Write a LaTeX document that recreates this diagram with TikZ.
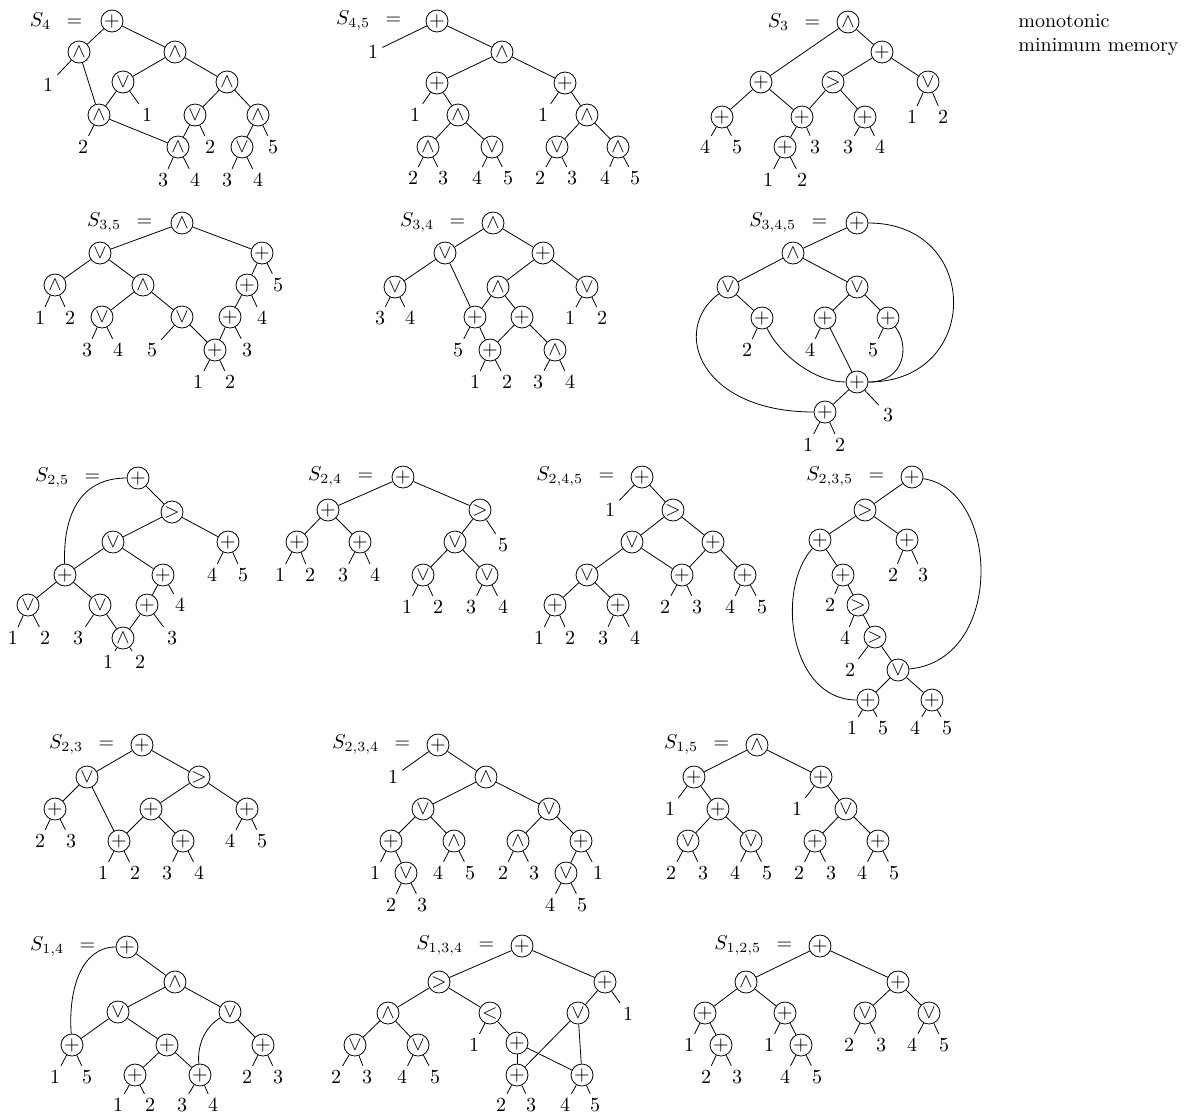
\documentclass[tikz,border=0pt]{standalone}
\usepackage{amsmath, amssymb}
\usepackage{tikz}
\usetikzlibrary{positioning}

\begin{document}
\begin{tikzpicture}[x=0.5pt, y=-0.5pt,
  op/.style={draw, circle, inner sep=0pt, minimum size=11pt},
  lf/.style={inner sep=2pt},
  lbl/.style={inner sep=0pt},
  note/.style={align=left, inner sep=0pt}]
\path[use as bounding box, fill=white] (0,0) rectangle (1189,1115);
% S_4
\node[op] (a0) at (112,21) {$+$};
\node[op] (a1) at (79,52) {$\wedge$};
\node[op] (a2) at (175,52) {$\wedge$};
\node[op] (a3) at (123,82) {$\vee$};
\node[op] (a4) at (227,82) {$\wedge$};
\node[op] (a5) at (99,115) {$\wedge$};
\node[op] (a6) at (195,115) {$\vee$};
\node[op] (a7) at (258,115) {$\wedge$};
\node[op] (a8) at (178,147) {$\wedge$};
\node[op] (a9) at (242,147) {$\vee$};
\node[lf] (a10) at (48,85) {1};
\node[lf] (a11) at (147,115) {1};
\node[lf] (a12) at (83,147) {2};
\node[lf] (a13) at (210,147) {2};
\node[lf] (a14) at (273,147) {5};
\node[lf] (a15) at (163,180) {3};
\node[lf] (a16) at (195,180) {4};
\node[lf] (a17) at (227,180) {3};
\node[lf] (a18) at (258,180) {4};
\node[lbl, left=9pt of a0] (a) {$S_{4}\enskip=$};
\draw (a0) -- (a1); \draw (a0) -- (a2); \draw (a1) -- (a10); \draw (a1) -- (a5); \draw (a2) -- (a3); \draw (a2) -- (a4);
\draw (a3) -- (a5); \draw (a3) -- (a11); \draw (a5) -- (a12); \draw (a5) -- (a8); \draw (a4) -- (a6); \draw (a4) -- (a7);
\draw (a6) -- (a8); \draw (a6) -- (a13); \draw (a7) -- (a9); \draw (a7) -- (a14);
\draw (a8) -- (a15); \draw (a8) -- (a16); \draw (a9) -- (a17); \draw (a9) -- (a18);
% S_{4,5}
\node[op] (b0) at (437,21) {$+$};
\node[op] (b1) at (502,52) {$\wedge$};
\node[op] (b2) at (437,83) {$+$};
\node[op] (b3) at (565,83) {$+$};
\node[op] (b4) at (458,115) {$\wedge$};
\node[op] (b5) at (587,115) {$\wedge$};
\node[op] (b6) at (428,147) {$\wedge$};
\node[op] (b7) at (492,147) {$\vee$};
\node[op] (b8) at (557,147) {$\vee$};
\node[op] (b9) at (618,147) {$\wedge$};
\node[lf] (b10) at (373,52) {1};
\node[lf] (b11) at (415,115) {1};
\node[lf] (b12) at (543,115) {1};
\node[lf] (b13) at (413,178) {2};
\node[lf] (b14) at (443,178) {3};
\node[lf] (b15) at (477,178) {4};
\node[lf] (b16) at (508,178) {5};
\node[lf] (b17) at (540,178) {2};
\node[lf] (b18) at (572,178) {3};
\node[lf] (b19) at (605,178) {4};
\node[lf] (b20) at (635,178) {5};
\node[lbl, left=12pt of b0] (b) {$S_{4,5}\enskip=$};
\draw (b0) -- (b10); \draw (b0) -- (b1); \draw (b1) -- (b2); \draw (b1) -- (b3); \draw (b2) -- (b11); \draw (b2) -- (b4);
\draw (b3) -- (b12); \draw (b3) -- (b5); \draw (b4) -- (b6); \draw (b4) -- (b7); \draw (b5) -- (b8); \draw (b5) -- (b9);
\draw (b6) -- (b13); \draw (b6) -- (b14); \draw (b7) -- (b15); \draw (b7) -- (b16);
\draw (b8) -- (b17); \draw (b8) -- (b18); \draw (b9) -- (b19); \draw (b9) -- (b20);
% S_3
\node[op] (c0) at (848,22) {$\wedge$};
\node[op] (c1) at (882,52) {$+$};
\node[op] (c2) at (761,82) {$+$};
\node[op] (c3) at (833,82) {$>$};
\node[op] (c4) at (928,82) {$\vee$};
\node[op] (c5) at (722,117) {$+$};
\node[op] (c6) at (802,117) {$+$};
\node[op] (c7) at (865,117) {$+$};
\node[op] (c8) at (785,147) {$+$};
\node[lf] (c10) at (912,117) {1};
\node[lf] (c11) at (943,117) {2};
\node[lf] (c12) at (705,147) {4};
\node[lf] (c13) at (737,147) {5};
\node[lf] (c14) at (815,147) {3};
\node[lf] (c15) at (848,147) {3};
\node[lf] (c16) at (880,147) {4};
\node[lf] (c17) at (768,180) {1};
\node[lf] (c18) at (802,180) {2};
\node[lbl, left=8pt of c0] (c) {$S_{3}\enskip=$};
\draw (c0) -- (c2); \draw (c0) -- (c1); \draw (c1) -- (c3); \draw (c1) -- (c4); \draw (c2) -- (c5); \draw (c2) -- (c6);
\draw (c3) -- (c6); \draw (c3) -- (c7); \draw (c4) -- (c10); \draw (c4) -- (c11); \draw (c5) -- (c12); \draw (c5) -- (c13);
\draw (c6) -- (c8); \draw (c6) -- (c14); \draw (c7) -- (c15); \draw (c7) -- (c16); \draw (c8) -- (c17); \draw (c8) -- (c18);
\node[note, anchor=north west] (nt) at (1018,14) {monotonic\\minimum memory};
% S_{3,5}
\node[op] (d0) at (182,223) {$\wedge$};
\node[op] (d1) at (100,253) {$\vee$};
\node[op] (d2) at (262,253) {$+$};
\node[op] (d3) at (55,285) {$\wedge$};
\node[op] (d4) at (143,285) {$\wedge$};
\node[op] (d5) at (247,285) {$+$};
\node[op] (d6) at (102,317) {$\vee$};
\node[op] (d7) at (182,317) {$\vee$};
\node[op] (d8) at (230,317) {$+$};
\node[op] (d9) at (215,350) {$+$};
\node[lf] (d10) at (278,285) {5};
\node[lf] (d11) at (40,318) {1};
\node[lf] (d12) at (70,318) {2};
\node[lf] (d13) at (262,318) {4};
\node[lf] (d14) at (87,350) {3};
\node[lf] (d15) at (118,350) {4};
\node[lf] (d16) at (152,350) {5};
\node[lf] (d17) at (247,350) {3};
\node[lf] (d18) at (198,382) {1};
\node[lf] (d19) at (230,382) {2};
\node[lbl, left=9pt of d0] (d) {$S_{3,5}\enskip=$};
\draw (d0) -- (d1); \draw (d0) -- (d2); \draw (d1) -- (d3); \draw (d1) -- (d4); \draw (d2) -- (d5); \draw (d2) -- (d10);
\draw (d3) -- (d11); \draw (d3) -- (d12); \draw (d4) -- (d6); \draw (d4) -- (d7); \draw (d5) -- (d8); \draw (d5) -- (d13);
\draw (d6) -- (d14); \draw (d6) -- (d15); \draw (d7) -- (d16); \draw (d7) -- (d9); \draw (d8) -- (d9); \draw (d8) -- (d17);
\draw (d9) -- (d18); \draw (d9) -- (d19);
% S_{3,4}
\node[op] (e0) at (493,223) {$\wedge$};
\node[op] (e1) at (445,253) {$\vee$};
\node[op] (e2) at (543,253) {$+$};
\node[op] (e3) at (395,287) {$\vee$};
\node[op] (e4) at (498,287) {$\wedge$};
\node[op] (e5) at (587,287) {$\vee$};
\node[op] (e6) at (475,317) {$+$};
\node[op] (e7) at (522,317) {$+$};
\node[op] (e8) at (490,350) {$+$};
\node[op] (e9) at (555,350) {$\wedge$};
\node[lf] (e10) at (380,318) {3};
\node[lf] (e11) at (410,318) {4};
\node[lf] (e12) at (570,318) {1};
\node[lf] (e13) at (602,318) {2};
\node[lf] (e14) at (458,350) {5};
\node[lf] (e15) at (475,382) {1};
\node[lf] (e16) at (507,382) {2};
\node[lf] (e17) at (538,382) {3};
\node[lf] (e18) at (570,382) {4};
\node[lbl, left=8pt of e0] (e) {$S_{3,4}\enskip=$};
\draw (e0) -- (e1); \draw (e0) -- (e2); \draw (e1) -- (e3); \draw (e1) -- (e6); \draw (e2) -- (e4); \draw (e2) -- (e5);
\draw (e3) -- (e10); \draw (e3) -- (e11); \draw (e4) -- (e6); \draw (e4) -- (e7); \draw (e5) -- (e12); \draw (e5) -- (e13);
\draw (e6) -- (e14); \draw (e6) -- (e8); \draw (e7) -- (e8); \draw (e7) -- (e9);
\draw (e8) -- (e15); \draw (e8) -- (e16); \draw (e9) -- (e17); \draw (e9) -- (e18);
% S_{3,4,5}
\node[op] (f0) at (857,223) {$+$};
\node[op] (f1) at (793,253) {$\wedge$};
\node[op] (f2) at (728,287) {$\vee$};
\node[op] (f3) at (857,287) {$\vee$};
\node[op] (f4) at (762,318) {$+$};
\node[op] (f5) at (825,318) {$+$};
\node[op] (f6) at (888,318) {$+$};
\node[op] (f7) at (857,382) {$+$};
\node[op] (f8) at (825,412) {$+$};
\node[lf] (f10) at (747,350) {2};
\node[lf] (f11) at (810,350) {4};
\node[lf] (f12) at (873,350) {5};
\node[lf] (f13) at (888,415) {3};
\node[lf] (f14) at (808,445) {1};
\node[lf] (f15) at (840,445) {2};
\node[lbl, left=9pt of f0] (f) {$S_{3,4,5}\enskip=$};
\draw (f0) -- (f1); \draw (f0) .. controls +(125,0) and +(125,0) .. (f7);
\draw (f1) -- (f2); \draw (f1) -- (f3); \draw (f2) -- (f4); \draw (f2) .. controls +(-58,43) and +(-125,0) .. (f8);
\draw (f3) -- (f5); \draw (f3) -- (f6); \draw (f4) -- (f10); \draw (f4) .. controls +(18,37) and +(-42,0) .. (f7);
\draw (f5) -- (f11); \draw (f5) -- (f7); \draw (f6) -- (f12); \draw (f6) .. controls +(22,27) and +(48,0) .. (f7);
\draw (f7) -- (f8); \draw (f7) -- (f13); \draw (f8) -- (f14); \draw (f8) -- (f15);
% S_{2,5}
\node[op] (g0) at (138,478) {$+$};
\node[op] (g1) at (172,512) {$>$};
\node[op] (g2) at (113,542) {$\vee$};
\node[op] (g3) at (228,542) {$+$};
\node[op] (g4) at (65,575) {$+$};
\node[op] (g5) at (163,575) {$+$};
\node[op] (g6) at (28,605) {$\vee$};
\node[op] (g7) at (100,605) {$\vee$};
\node[op] (g8) at (147,605) {$+$};
\node[op] (g9) at (123,638) {$\wedge$};
\node[lf] (g10) at (212,575) {4};
\node[lf] (g11) at (243,575) {5};
\node[lf] (g12) at (180,605) {4};
\node[lf] (g13) at (13,638) {1};
\node[lf] (g14) at (45,638) {2};
\node[lf] (g15) at (78,638) {3};
\node[lf] (g16) at (172,638) {3};
\node[lf] (g17) at (108,662) {1};
\node[lf] (g18) at (140,662) {2};
\node[lbl, left=13pt of g0] (g) {$S_{2,5}\enskip=$};
\draw (g0) -- (g1); \draw (g0) .. controls +(-58,0) and +(-2,-60) .. (g4);
\draw (g1) -- (g2); \draw (g1) -- (g3); \draw (g2) -- (g4); \draw (g2) -- (g5); \draw (g3) -- (g10); \draw (g3) -- (g11);
\draw (g4) -- (g6); \draw (g4) -- (g7); \draw (g5) -- (g8); \draw (g5) -- (g12); \draw (g6) -- (g13); \draw (g6) -- (g14);
\draw (g7) -- (g15); \draw (g7) -- (g9); \draw (g8) -- (g9); \draw (g8) -- (g16); \draw (g9) -- (g17); \draw (g9) -- (g18);
% S_{2,4}
\node[op] (h0) at (403,477) {$+$};
\node[op] (h1) at (328,510) {$+$};
\node[op] (h2) at (480,510) {$>$};
\node[op] (h3) at (297,542) {$+$};
\node[op] (h4) at (360,542) {$+$};
\node[op] (h5) at (455,542) {$\vee$};
\node[op] (h6) at (423,575) {$\vee$};
\node[op] (h7) at (487,575) {$\vee$};
\node[lf] (h10) at (503,545) {5};
\node[lf] (h11) at (280,575) {1};
\node[lf] (h12) at (310,575) {2};
\node[lf] (h13) at (343,575) {3};
\node[lf] (h14) at (375,575) {4};
\node[lf] (h15) at (407,607) {1};
\node[lf] (h16) at (438,607) {2};
\node[lf] (h17) at (471,607) {3};
\node[lf] (h18) at (503,607) {4};
\node[lbl, left=9pt of h0] (h) {$S_{2,4}\enskip=$};
\draw (h0) -- (h1); \draw (h0) -- (h2); \draw (h1) -- (h3); \draw (h1) -- (h4); \draw (h2) -- (h5); \draw (h2) -- (h10);
\draw (h3) -- (h11); \draw (h3) -- (h12); \draw (h4) -- (h13); \draw (h4) -- (h14); \draw (h5) -- (h6); \draw (h5) -- (h7);
\draw (h6) -- (h15); \draw (h6) -- (h16); \draw (h7) -- (h17); \draw (h7) -- (h18);
% S_{2,4,5}
\node[op] (i0) at (642,477) {$+$};
\node[op] (i1) at (673,510) {$>$};
\node[op] (i2) at (632,542) {$\vee$};
\node[op] (i3) at (713,542) {$+$};
\node[op] (i4) at (587,575) {$\vee$};
\node[op] (i5) at (682,575) {$+$};
\node[op] (i6) at (745,575) {$+$};
\node[op] (i7) at (555,605) {$+$};
\node[op] (i8) at (618,605) {$+$};
\node[lf] (i10) at (610,510) {1};
\node[lf] (i11) at (665,607) {2};
\node[lf] (i12) at (697,607) {3};
\node[lf] (i13) at (730,607) {4};
\node[lf] (i14) at (762,607) {5};
\node[lf] (i15) at (539,638) {1};
\node[lf] (i16) at (570,638) {2};
\node[lf] (i17) at (603,638) {3};
\node[lf] (i18) at (635,638) {4};
\node[lbl, left=8pt of i0] (i) {$S_{2,4,5}\enskip=$};
\draw (i0) -- (i10); \draw (i0) -- (i1); \draw (i1) -- (i2); \draw (i1) -- (i3); \draw (i2) -- (i4); \draw (i2) -- (i5);
\draw (i3) -- (i5); \draw (i3) -- (i6); \draw (i4) -- (i7); \draw (i4) -- (i8); \draw (i5) -- (i11); \draw (i5) -- (i12);
\draw (i6) -- (i13); \draw (i6) -- (i14); \draw (i7) -- (i15); \draw (i7) -- (i16); \draw (i8) -- (i17); \draw (i8) -- (i18);
% S_{2,3,5}
\node[op] (j0) at (912,477) {$+$};
\node[op] (j1) at (865,510) {$>$};
\node[op] (j2) at (820,540) {$+$};
\node[op] (j3) at (907,540) {$+$};
\node[op] (j4) at (843,575) {$+$};
\node[op] (j5) at (858,605) {$>$};
\node[op] (j6) at (875,637) {$>$};
\node[op] (j7) at (898,670) {$\vee$};
\node[op] (j8) at (868,700) {$+$};
\node[op] (j9) at (932,700) {$+$};
\node[lf] (j10) at (893,575) {2};
\node[lf] (j11) at (923,575) {3};
\node[lf] (j12) at (830,605) {2};
\node[lf] (j13) at (845,638) {4};
\node[lf] (j14) at (850,670) {2};
\node[lf] (j15) at (852,728) {1};
\node[lf] (j16) at (883,728) {5};
\node[lf] (j17) at (915,728) {4};
\node[lf] (j18) at (947,728) {5};
\node[lbl, left=8pt of j0] (j) {$S_{2,3,5}\enskip=$};
\draw (j0) -- (j1); \draw (j0) .. controls +(88,13) and +(107,-10) .. (j7);
\draw (j1) -- (j2); \draw (j1) -- (j3); \draw (j2) -- (j4); \draw (j2) .. controls +(-45,50) and +(-78,0) .. (j8);
\draw (j3) -- (j10); \draw (j3) -- (j11); \draw (j4) -- (j12); \draw (j4) -- (j5); \draw (j5) -- (j13); \draw (j5) -- (j6);
\draw (j6) -- (j14); \draw (j6) -- (j7); \draw (j7) -- (j8); \draw (j7) -- (j9);
\draw (j8) -- (j15); \draw (j8) -- (j16); \draw (j9) -- (j17); \draw (j9) -- (j18);
% S_{2,3}
\node[op] (k0) at (142,745) {$+$};
\node[op] (k1) at (87,777) {$\vee$};
\node[op] (k2) at (199,777) {$>$};
\node[op] (k3) at (55,809) {$+$};
\node[op] (k4) at (151,809) {$+$};
\node[op] (k5) at (247,809) {$+$};
\node[op] (k6) at (119,841) {$+$};
\node[op] (k7) at (183,841) {$+$};
\node[lf] (k10) at (40,841) {2};
\node[lf] (k11) at (71,841) {3};
\node[lf] (k12) at (230,841) {4};
\node[lf] (k13) at (262,841) {5};
\node[lf] (k14) at (103,873) {1};
\node[lf] (k15) at (135,873) {2};
\node[lf] (k16) at (167,873) {3};
\node[lf] (k17) at (199,873) {4};
\node[lbl, left=8pt of k0] (k) {$S_{2,3}\enskip=$};
\draw (k0) -- (k1); \draw (k0) -- (k2); \draw (k1) -- (k3); \draw (k1) -- (k6); \draw (k2) -- (k4); \draw (k2) -- (k5);
\draw (k3) -- (k10); \draw (k3) -- (k11); \draw (k4) -- (k6); \draw (k4) -- (k7); \draw (k5) -- (k12); \draw (k5) -- (k13);
\draw (k6) -- (k14); \draw (k6) -- (k15); \draw (k7) -- (k16); \draw (k7) -- (k17);
% S_{2,3,4}
\node[op] (l0) at (438,745) {$+$};
\node[op] (l1) at (486,777) {$\wedge$};
\node[op] (l2) at (423,809) {$\vee$};
\node[op] (l3) at (549,809) {$\vee$};
\node[op] (l4) at (391,841) {$+$};
\node[op] (l5) at (454,841) {$\wedge$};
\node[op] (l6) at (518,841) {$\wedge$};
\node[op] (l7) at (581,841) {$+$};
\node[op] (l8) at (406,873) {$\vee$};
\node[op] (l9) at (566,873) {$\vee$};
\node[lf] (l10) at (393,777) {1};
\node[lf] (l11) at (375,873) {1};
\node[lf] (l12) at (438,873) {4};
\node[lf] (l13) at (470,873) {5};
\node[lf] (l14) at (503,873) {2};
\node[lf] (l15) at (534,873) {3};
\node[lf] (l16) at (598,873) {1};
\node[lf] (l17) at (391,905) {2};
\node[lf] (l18) at (422,905) {3};
\node[lf] (l19) at (550,905) {4};
\node[lf] (l20) at (582,905) {5};
\node[lbl, left=8pt of l0] (l) {$S_{2,3,4}\enskip=$};
\draw (l0) -- (l10); \draw (l0) -- (l1); \draw (l1) -- (l2); \draw (l1) -- (l3); \draw (l2) -- (l4); \draw (l2) -- (l5);
\draw (l3) -- (l6); \draw (l3) -- (l7); \draw (l4) -- (l11); \draw (l4) -- (l8); \draw (l5) -- (l12); \draw (l5) -- (l13);
\draw (l6) -- (l14); \draw (l6) -- (l15); \draw (l7) -- (l9); \draw (l7) -- (l16);
\draw (l8) -- (l17); \draw (l8) -- (l18); \draw (l9) -- (l19); \draw (l9) -- (l20);
% S_{1,5}
\node[op] (m0) at (757,745) {$\wedge$};
\node[op] (m1) at (694,777) {$+$};
\node[op] (m2) at (821,777) {$+$};
\node[op] (m3) at (718,809) {$+$};
\node[op] (m4) at (846,809) {$\vee$};
\node[op] (m5) at (688,841) {$\vee$};
\node[op] (m6) at (751,841) {$\vee$};
\node[op] (m7) at (815,841) {$+$};
\node[op] (m8) at (878,841) {$+$};
\node[lf] (m10) at (670,809) {1};
\node[lf] (m11) at (797,809) {1};
\node[lf] (m12) at (671,873) {2};
\node[lf] (m13) at (703,873) {3};
\node[lf] (m14) at (735,873) {4};
\node[lf] (m15) at (767,873) {5};
\node[lf] (m16) at (799,873) {2};
\node[lf] (m17) at (831,873) {3};
\node[lf] (m18) at (862,873) {4};
\node[lf] (m19) at (894,873) {5};
\node[lbl, left=8pt of m0] (m) {$S_{1,5}\enskip=$};
\draw (m0) -- (m1); \draw (m0) -- (m2); \draw (m1) -- (m10); \draw (m1) -- (m3); \draw (m2) -- (m11); \draw (m2) -- (m4);
\draw (m3) -- (m5); \draw (m3) -- (m6); \draw (m4) -- (m7); \draw (m4) -- (m8); \draw (m5) -- (m12); \draw (m5) -- (m13);
\draw (m6) -- (m14); \draw (m6) -- (m15); \draw (m7) -- (m16); \draw (m7) -- (m17); \draw (m8) -- (m18); \draw (m8) -- (m19);
% S_{1,4}
\node[op] (n0) at (127,947) {$+$};
\node[op] (n1) at (175,982) {$\wedge$};
\node[op] (n2) at (118,1012) {$\vee$};
\node[op] (n3) at (230,1012) {$\vee$};
\node[op] (n4) at (72,1045) {$+$};
\node[op] (n5) at (167,1045) {$+$};
\node[op] (n6) at (263,1045) {$+$};
\node[op] (n7) at (135,1075) {$+$};
\node[op] (n8) at (200,1075) {$+$};
\node[lf] (n10) at (55,1077) {1};
\node[lf] (n11) at (87,1077) {5};
\node[lf] (n12) at (247,1077) {2};
\node[lf] (n13) at (278,1077) {3};
\node[lf] (n14) at (118,1105) {1};
\node[lf] (n15) at (150,1105) {2};
\node[lf] (n16) at (182,1105) {3};
\node[lf] (n17) at (213,1105) {4};
\node[lbl, left=10pt of n0] (n) {$S_{1,4}\enskip=$};
\draw (n0) -- (n1); \draw (n0) .. controls +(-45,0) and +(-4,-57) .. (n4);
\draw (n1) -- (n2); \draw (n1) -- (n3); \draw (n2) -- (n4); \draw (n2) -- (n5);
\draw (n3) .. controls +(-25,15) and +(-3,-30) .. (n8); \draw (n3) -- (n6);
\draw (n4) -- (n10); \draw (n4) -- (n11); \draw (n5) -- (n7); \draw (n5) -- (n8); \draw (n6) -- (n12); \draw (n6) -- (n13);
\draw (n7) -- (n14); \draw (n7) -- (n15); \draw (n8) -- (n16); \draw (n8) -- (n17);
% S_{1,3,4}
\node[op] (o0) at (522,946) {$+$};
\node[op] (o1) at (439,982) {$>$};
\node[op] (o2) at (605,982) {$+$};
\node[op] (o3) at (388,1013) {$\wedge$};
\node[op] (o4) at (490,1013) {$<$};
\node[op] (o5) at (578,1013) {$\vee$};
\node[op] (o6) at (355,1045) {$\vee$};
\node[op] (o7) at (418,1045) {$\vee$};
\node[op] (o8) at (517,1043) {$+$};
\node[op] (o9) at (517,1075) {$+$};
\node[op] (o10) at (582,1075) {$+$};
\node[lf] (o11) at (628,1014) {1};
\node[lf] (o12) at (474,1045) {1};
\node[lf] (o13) at (336,1077) {2};
\node[lf] (o14) at (367,1077) {3};
\node[lf] (o15) at (402,1077) {4};
\node[lf] (o16) at (435,1077) {5};
\node[lf] (o17) at (501,1105) {2};
\node[lf] (o18) at (531,1105) {3};
\node[lf] (o19) at (565,1105) {4};
\node[lf] (o20) at (595,1105) {5};
\node[lbl, left=8pt of o0] (o) {$S_{1,3,4}\enskip=$};
\draw (o0) -- (o1); \draw (o0) -- (o2); \draw (o1) -- (o3); \draw (o1) -- (o4); \draw (o2) -- (o5); \draw (o2) -- (o11);
\draw (o3) -- (o6); \draw (o3) -- (o7); \draw (o4) -- (o12); \draw (o4) -- (o8); \draw (o5) -- (o9); \draw (o5) -- (o10);
\draw (o8) -- (o9); \draw (o8) -- (o10); \draw (o6) -- (o13); \draw (o6) -- (o14); \draw (o7) -- (o15); \draw (o7) -- (o16);
\draw (o9) -- (o17); \draw (o9) -- (o18); \draw (o10) -- (o19); \draw (o10) -- (o20);
% S_{1,2,5}
\node[op] (p0) at (820,946) {$+$};
\node[op] (p1) at (746,982) {$\wedge$};
\node[op] (p2) at (898,982) {$+$};
\node[op] (p3) at (705,1013) {$+$};
\node[op] (p4) at (785,1013) {$+$};
\node[op] (p5) at (865,1013) {$\vee$};
\node[op] (p6) at (929,1013) {$\vee$};
\node[op] (p7) at (721,1045) {$+$};
\node[op] (p8) at (801,1045) {$+$};
\node[lf] (p10) at (689,1045) {1};
\node[lf] (p11) at (769,1045) {1};
\node[lf] (p12) at (849,1045) {2};
\node[lf] (p13) at (881,1045) {3};
\node[lf] (p14) at (912,1045) {4};
\node[lf] (p15) at (944,1045) {5};
\node[lf] (p16) at (706,1077) {2};
\node[lf] (p17) at (737,1077) {3};
\node[lf] (p18) at (785,1077) {4};
\node[lf] (p19) at (817,1077) {5};
\node[lbl, left=8pt of p0] (p) {$S_{1,2,5}\enskip=$};
\draw (p0) -- (p1); \draw (p0) -- (p2); \draw (p1) -- (p3); \draw (p1) -- (p4); \draw (p2) -- (p5); \draw (p2) -- (p6);
\draw (p3) -- (p10); \draw (p3) -- (p7); \draw (p4) -- (p11); \draw (p4) -- (p8); \draw (p5) -- (p12); \draw (p5) -- (p13);
\draw (p6) -- (p14); \draw (p6) -- (p15); \draw (p7) -- (p16); \draw (p7) -- (p17); \draw (p8) -- (p18); \draw (p8) -- (p19);
\end{tikzpicture}
\end{document}
